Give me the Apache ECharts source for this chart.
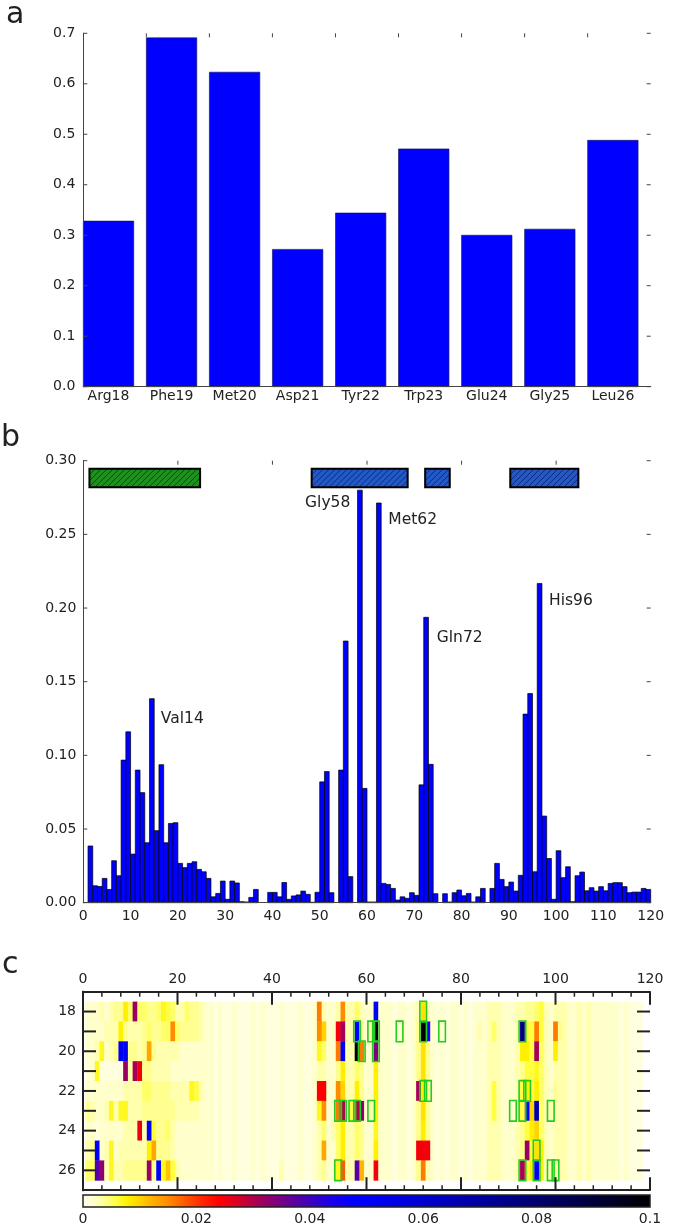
<!DOCTYPE html>
<html><head><meta charset="utf-8">
<script src="https://cdn.jsdelivr.net/npm/echarts/dist/echarts.min.js"></script>
<style>html,body{margin:0;padding:0;background:#fff}#c{width:675px;height:1226px}</style>
</head><body><div id="c"></div>
<script>
// ---------------- DATA ----------------
// Panel a
const aLabels = ['Arg18','Phe19','Met20','Asp21','Tyr22','Trp23','Glu24','Gly25','Leu26'];
const aValues = [0.328,0.691,0.623,0.272,0.344,0.471,0.300,0.312,0.488];
const aYTicks = [0,0.1,0.2,0.3,0.4,0.5,0.6,0.7];
const aTopTicks = [1,2,3,4,5,6,7,8];

// Panel b (residues 1..119)
const bFirstResidue = 1;
const bValues = [
0.0385,0.0115,0.011,0.0165,0.009,0.0285,0.0183,0.0968,0.116,0.033,
0.090,0.0747,0.0407,0.1385,0.0489,0.0937,0.0407,0.0538,0.0543,0.0267,
0.0238,0.0267,0.0278,0.0226,0.021,0.0165,0.004,0.0063,0.0147,0.0023,
0.0147,0.0134,0.0007,0.0005,0.0036,0.009,0,0,0.007,0.007,
0.004,0.0137,0.0023,0.0046,0.0053,0.0079,0.0057,0.0003,0.0071,0.082,
0.089,0.0068,0,0.090,0.1776,0.0177,0,0.280,0.0776,0.0005,
0.0005,0.2713,0.0131,0.0124,0.0097,0.0018,0.004,0.003,0.0068,0.005,
0.080,0.1937,0.0939,0.0061,0,0.0061,0.0005,0.0068,0.0086,0.0047,
0.0063,0.0005,0.004,0.0097,0,0.0097,0.0267,0.0158,0.0109,0.014,
0.0079,0.0186,0.128,0.142,0.021,0.2167,0.0588,0.030,0.0023,0.0353,
0.017,0.0244,0.0007,0.0183,0.0208,0.0081,0.0102,0.0079,0.0109,0.0081,
0.0131,0.0136,0.0136,0.0109,0.0068,0.0072,0.0072,0.0097,0.009];
const bYTicks = [0,0.05,0.10,0.15,0.20,0.25,0.30];
const bTopTicks = [20,40,60,80,100];
const helixStart = [1.3, 48.3, 72.3, 90.3];
const helixEnd   = [24.7, 68.6, 77.5, 104.7];
const helixKind  = ['green','blue','blue','blue'];
const annoNames = ['Val14','Gly58','Met62','Gln72','His96'];
const annoX = [16.4, 46.9, 64.5, 74.75, 98.5];
const annoY = [0.1247, 0.2711, 0.2597, 0.1795, 0.2048];

// Panel c heat map (values in thousandths, columns 1..118)
const heatFirstCol = 1;
const heatRows = [18,19,20,21,22,23,24,25,26];
const row18 = [2,2,2,3,2,3,4,4,8,5, 32,5,5,4,4,5,7,6,5,3, 3,5,4,4,3,2,2,1,2,1, 1,2,1,1,1,2,1,2,1,1, 1,2,1,1,1,2,1,1,2,16, 3,2,2,3,15,3,3,5,3,2, 2,50,2,2,2,1,2,2,1,2, 3,9,3,2,1,2,1,2,2,1, 2,1,2,2,2,3,3,3,2,2, 2,3,3,4,4,5,6,3,2,3, 3,3,2,2,3,2,3,2,2,2, 2,2,2,1,2,1,1,1];
const row19 = [2,2,2,2,3,3,3,8,4,3, 3,3,4,5,4,4,5,5,15,5, 4,4,4,4,3,2,2,1,2,1, 1,2,1,1,1,2,1,2,1,1, 1,2,1,1,1,2,1,1,2,15, 10,2,2,25,31,3,3,48,4,2, 3,100,2,2,2,1,2,2,1,2, 4,100,44,2,1,2,1,2,2,1, 2,1,2,3,2,3,5,3,2,2, 2,3,75,6,6,16,6,3,2,16, 4,3,2,2,3,2,3,2,2,2, 2,2,2,1,2,1,1,1];
const row20 = [2,2,3,7,2,3,4,50,50,4, 4,3,4,13,4,3,3,3,3,3, 2,2,2,2,2,2,2,1,2,1, 1,2,1,1,1,2,1,2,1,1, 1,2,1,1,1,2,1,1,2,7, 5,2,2,16,50,3,3,100,16,2, 2,34,2,2,2,1,2,2,1,2, 4,9,4,2,1,2,1,2,2,1, 2,1,2,2,2,3,3,3,2,2, 2,3,8,8,6,31,5,3,2,8, 3,3,2,2,3,2,3,2,2,2, 2,2,2,1,2,1,1,1];
const row21 = [1,2,7,1,1,1,1,1,32,3, 31,25,4,4,3,3,3,3,2,2, 2,2,2,2,2,2,2,1,2,1, 1,2,1,1,1,2,1,2,1,1, 1,2,1,1,1,2,1,1,2,3, 3,2,2,4,8,3,3,5,4,2, 2,8,2,2,2,1,2,2,1,2, 4,9,4,2,1,2,1,2,2,1, 2,1,2,2,2,3,3,3,2,2, 2,3,4,6,6,7,5,3,2,3, 3,3,2,2,3,2,3,2,2,2, 2,2,2,1,2,1,1,1];
const row22 = [2,2,2,2,2,2,2,2,3,3, 3,3,5,5,4,4,4,4,3,3, 3,3,7,6,3,2,2,1,2,1, 1,2,1,1,1,2,1,2,1,1, 1,2,1,1,1,2,1,1,2,24, 24,2,2,15,10,3,3,8,4,2, 2,8,2,2,2,1,2,2,1,2, 31,8,4,2,1,2,1,2,2,1, 2,1,2,2,2,3,6,3,2,2, 2,3,6,8,6,8,5,3,2,4, 3,3,2,2,3,2,3,2,2,2, 2,2,2,1,2,1,1,1];
const row23 = [4,3,2,2,3,7,3,7,7,3, 3,3,4,4,4,4,4,4,4,3, 3,3,3,3,2,2,2,1,2,1, 1,2,1,1,1,2,1,2,1,1, 1,2,1,1,1,2,1,1,2,7, 15,2,2,16,30,3,6,30,33,2, 3,8,2,2,2,1,2,2,1,2, 4,9,4,2,1,2,1,2,2,1, 2,1,2,2,2,3,6,3,2,2, 2,3,6,48,10,68,5,3,3,3, 3,3,2,2,3,2,3,2,2,2, 2,2,2,1,2,1,1,1];
const row24 = [2,2,1,2,2,2,2,2,3,3, 3,26,3,48,6,4,4,5,3,2, 2,2,2,2,2,2,2,1,2,1, 1,2,1,1,1,2,1,2,1,1, 1,2,1,1,1,2,1,1,2,3, 5,2,3,5,8,3,3,5,4,2, 2,7,2,2,2,1,2,2,1,2, 4,8,4,2,1,2,1,2,2,1, 2,1,2,2,2,3,3,3,2,2, 2,3,4,6,8,10,5,3,2,3, 3,3,2,2,3,2,3,2,2,2, 2,2,2,1,2,1,1,1];
const row25 = [3,4,50,2,3,7,2,3,3,3, 3,3,3,8,13,4,4,4,3,2, 2,2,2,2,2,2,2,1,2,1, 1,2,1,1,1,2,1,2,1,1, 1,2,1,1,1,2,1,1,2,3, 13,2,2,5,8,3,3,5,4,2, 2,8,2,2,2,1,2,2,1,2, 25,25,25,2,1,2,1,2,2,1, 2,1,2,2,2,3,3,3,2,2, 2,3,4,32,6,9,8,3,2,3, 3,3,2,2,3,2,3,2,2,2, 2,2,2,1,2,1,1,1];
const row26 = [5,5,38,33,3,7,3,3,4,4, 4,4,4,32,4,48,7,11,6,3, 2,2,2,2,2,2,2,1,2,1, 1,2,1,1,1,2,1,2,1,1, 1,3,1,1,1,2,1,1,2,3, 4,2,2,7,18,3,3,38,12,2, 2,25,2,2,2,1,2,2,1,2, 4,16,3,2,1,2,1,2,2,1, 2,1,2,2,2,3,3,3,2,2, 2,3,31,6,8,50,8,3,3,3, 3,3,2,2,3,2,3,2,2,2, 2,2,2,1,2,1,1,1];
const boxCol = [72, 58,61,62,67,72,76,93, 59,62, 72,73,93,94, 54,55,57,58,61,91,93,99, 96, 54,93,96,99,100];
const boxRow = [18, 19,19,19,19,19,19,19, 20,20, 22,22,22,22, 23,23,23,23,23,23,23,23, 25, 26,26,26,26,26];
const cMajorTicks = [0,20,40,60,80,100,120];
const cMinorTicks = [4,8,12,16,24,28,32,36,44,48,52,56,64,68,72,76,84,88,92,96,104,108,112,116];
const cYTicks = [18,19,20,21,22,23,24,25,26];
const colorbarTicks = [0,0.02,0.04,0.06,0.08,0.1];

// ---------------- STYLE ----------------
const FONT = 'DejaVu Sans';
const TXT = '#222';
const AX = '#444';
const cmapStops = [[0,'#fffff0'],[2,'#ffffcc'],[4,'#ffff90'],[6,'#ffff40'],[8,'#fff000'],[10,'#ffd400'],
 [12,'#ffb400'],[15,'#ff8c00'],[18,'#ff5a00'],[21,'#ff2800'],[24,'#ff0000'],[27,'#de0022'],[30,'#b4004a'],
 [33,'#8c0070'],[36,'#6a0090'],[40,'#4000c0'],[44,'#1800ea'],[48,'#0000ff'],[55,'#0000e6'],[62,'#0000c8'],
 [70,'#0000a0'],[78,'#000078'],[86,'#000050'],[93,'#000028'],[100,'#000000']];
function hex2rgb(h){return [parseInt(h.substr(1,2),16),parseInt(h.substr(3,2),16),parseInt(h.substr(5,2),16)];}
function cmap(v){
  v = Math.max(0, Math.min(100, v));
  for (let i=1;i<cmapStops.length;i++){
    if (v <= cmapStops[i][0]){
      const a=cmapStops[i-1], b=cmapStops[i];
      const t=(v-a[0])/(b[0]-a[0]); const ca=hex2rgb(a[1]), cb=hex2rgb(b[1]);
      return 'rgb('+ca.map((c,j)=>Math.round(c+(cb[j]-c)*t)).join(',')+')';
    }
  }
  return '#000';
}
const hatchFill = {green:'#1f8f1f', blue:'#2458c6'};
const hatchLine = {green:'#0b4a0b', blue:'#0c2a78'};

// ---------------- CHART ----------------
const chart = echarts.init(document.getElementById('c'));
const heatData = [];
[row18,row19,row20,row21,row22,row23,row24,row25,row26].forEach((arr,ri)=>{
  arr.forEach((v,ci)=>heatData.push([heatFirstCol+ci, heatRows[ri], v]));
});
const lab = {fontFamily:FONT, fontSize:14, color:TXT};
const noSplit = {show:false};
const noTick = {show:false};

function ax(grid, min, max, interval, pos, extra){
  return Object.assign({gridIndex:grid, type:'value', min:min, max:max, interval:interval, position:pos,
    axisLine:{lineStyle:{color:AX}}, axisTick:noTick, axisLabel:{show:false}, splitLine:noSplit, z:10}, extra||{});
}
const thick = {axisLine:{lineStyle:{color:'#222',width:2}}};
const xAxis = [
  ax(0,0,9,1,'bottom'),
  ax(0,0,9,1,'top'),
  ax(1,0,120,10,'bottom',{axisLabel:Object.assign({margin:7},lab)}),
  ax(1,0,120,20,'top'),
  ax(2,0,120,20,'top',Object.assign({axisLabel:Object.assign({margin:5},lab)},thick)),
  ax(2,0,120,20,'bottom',thick),
  ax(3,0,0.1,0.02,'bottom',{axisLine:{show:false}, axisLabel:Object.assign({margin:5},lab)})
];
const yAxis = [
  ax(0,0,0.7,0.1,'left',{axisLabel:Object.assign({margin:8, formatter:v=>v.toFixed(1)},lab)}),
  ax(0,0,0.7,0.1,'right'),
  ax(1,0,0.3,0.05,'left',{axisLabel:Object.assign({margin:7, formatter:v=>v.toFixed(2)},lab)}),
  ax(1,0,0.3,0.05,'right'),
  ax(2,17,27,1,'left',Object.assign({inverse:true, axisLabel:Object.assign({margin:7, formatter:v=>(v>=18&&v<=26&&v%2===0)?String(v):''},lab)},thick)),
  ax(2,17,27,1,'right',Object.assign({inverse:true},thick)),
  {gridIndex:3, type:'value', min:0, max:1, show:false}
];

function hatchLines(x0,y0,x1,y1,step,color){
  const out=[];
  for(let c=x0+y0; c<=x1+y1; c+=step){
    const xa=Math.max(x0,c-y1), xb=Math.min(x1,c-y0);
    if(xb>xa) out.push({type:'line', shape:{x1:xa,y1:c-xa,x2:xb,y2:c-xb}, style:{stroke:color,lineWidth:1}});
  }
  return out;
}
// tick series drawn through the axes' scales (inward ticks on frame sides)
function yTickSeries(xi, yi, vals, xmin, xmax, len, w, color){
  return {type:'custom', xAxisIndex:xi, yAxisIndex:yi, clip:false, z:12, silent:true,
    data: vals.map(v=>[xmin,v]),
    renderItem:(p,api)=>{
      const v=api.value(1); const a=api.coord([xmin,v]), b=api.coord([xmax,v]);
      return {type:'group', children:[
        {type:'line', shape:{x1:a[0],y1:a[1],x2:a[0]+len,y2:a[1]}, style:{stroke:color,lineWidth:w}},
        {type:'line', shape:{x1:b[0],y1:b[1],x2:b[0]-len,y2:b[1]}, style:{stroke:color,lineWidth:w}}
      ]};
    }};
}
function xTickSeries(xi, yi, vals, ytop, ybot, lenTop, lenBot, w, color){
  return {type:'custom', xAxisIndex:xi, yAxisIndex:yi, clip:false, z:12, silent:true,
    data: vals.map(v=>[v,ytop]),
    renderItem:(p,api)=>{
      const v=api.value(0); const a=api.coord([v,ytop]), b=api.coord([v,ybot]);
      const ch=[];
      if(lenTop>0) ch.push({type:'line', shape:{x1:a[0],y1:a[1],x2:a[0],y2:a[1]+(b[1]>a[1]?lenTop:-lenTop)}, style:{stroke:color,lineWidth:w}});
      if(lenBot>0) ch.push({type:'line', shape:{x1:b[0],y1:b[1],x2:b[0],y2:b[1]+(b[1]>a[1]?-lenBot:lenBot)}, style:{stroke:color,lineWidth:w}});
      return {type:'group', children:ch};
    }};
}

const series = [
  // panel a bars + category labels
  {type:'custom', xAxisIndex:0, yAxisIndex:0, clip:false,
   data: aValues.map((v,i)=>[i,v]),
   renderItem:(p,api)=>{
     const i=api.value(0), v=api.value(1);
     const p0=api.coord([i,0]), p1=api.coord([i+0.8,v]), pc=api.coord([i+0.4,0]);
     return {type:'group', children:[
       {type:'rect', shape:{x:p0[0],y:p1[1],width:p1[0]-p0[0],height:p0[1]-p1[1]}, style:{fill:'#0000ff',stroke:'#101050',lineWidth:0.6}},
       {type:'text', x:pc[0], y:pc[1]+3, style:{text:aLabels[p.dataIndex], fill:TXT, fontFamily:FONT, fontSize:14, align:'center', verticalAlign:'top'}}
     ]};
   }},
  yTickSeries(0,0,aYTicks,0,9,4,1,AX),
  xTickSeries(0,0,aTopTicks,0.7,0,4,0,1,AX),
  // panel b bars
  {type:'custom', xAxisIndex:2, yAxisIndex:2, clip:false,
   data: bValues.map((v,i)=>[bFirstResidue+i,v]),
   renderItem:(p,api)=>{
     const r=api.value(0), v=api.value(1);
     if(v<=0) return null;
     const p0=api.coord([r,0]), p1=api.coord([r+1,v]);
     return {type:'rect', shape:{x:p0[0],y:p1[1],width:p1[0]-p0[0],height:p0[1]-p1[1]}, style:{fill:'#0000ff',stroke:'#000',lineWidth:0.7}};
   }},
  // panel b hatched secondary-structure boxes
  {type:'custom', xAxisIndex:2, yAxisIndex:2, clip:false,
   data: helixStart.map((s,i)=>[s,helixEnd[i]]),
   renderItem:(p,api)=>{
     const kind=helixKind[p.dataIndex];
     const a=api.coord([api.value(0),0.2946]), b=api.coord([api.value(1),0.282]);
     const x0=a[0],y0=a[1],x1=b[0],y1=b[1];
     return {type:'group', children:[
       {type:'rect', shape:{x:x0,y:y0,width:x1-x0,height:y1-y0}, style:{fill:hatchFill[kind]}},
       ...hatchLines(x0,y0,x1,y1,6,hatchLine[kind]),
       {type:'rect', shape:{x:x0,y:y0,width:x1-x0,height:y1-y0}, style:{fill:'none',stroke:'#000',lineWidth:2}}
     ]};
   }},
  // panel b annotations
  {type:'custom', xAxisIndex:2, yAxisIndex:2, clip:false,
   data: annoX.map((x,i)=>[x,annoY[i]]),
   renderItem:(p,api)=>{
     const c=api.coord([api.value(0),api.value(1)]);
     return {type:'text', x:c[0], y:c[1], style:{text:annoNames[p.dataIndex], fill:TXT, fontFamily:FONT, fontSize:15.5, align:'left', verticalAlign:'middle'}};
   }},
  yTickSeries(2,2,bYTicks,0,120,4,1,AX),
  xTickSeries(2,2,bTopTicks,0.3,0,4,0,1,AX),
  // panel c heat cells
  {type:'custom', xAxisIndex:4, yAxisIndex:4, clip:false,
   data: heatData,
   renderItem:(p,api)=>{
     const k=api.value(0), r=api.value(1), v=api.value(2);
     const a=api.coord([k-0.5,r-0.5]), b=api.coord([k+0.5,r+0.5]);
     const x=Math.min(a[0],b[0]), y=Math.min(a[1],b[1]);
     return {type:'rect', shape:{x:x,y:y,width:Math.abs(b[0]-a[0])+0.4,height:Math.abs(b[1]-a[1])+0.4}, style:{fill:cmap(v)}};
   }},
  // panel c green boxes
  {type:'custom', xAxisIndex:4, yAxisIndex:4, clip:false,
   data: boxCol.map((k,i)=>[k,boxRow[i]]),
   renderItem:(p,api)=>{
     const k=api.value(0), r=api.value(1);
     const a=api.coord([k-0.7,r-0.52]), b=api.coord([k+0.7,r+0.52]);
     return {type:'rect', shape:{x:Math.min(a[0],b[0]),y:Math.min(a[1],b[1]),width:Math.abs(b[0]-a[0]),height:Math.abs(b[1]-a[1])}, style:{fill:'none',stroke:'#22cc22',lineWidth:1.6}};
   }},
  yTickSeries(4,4,cYTicks,0,120,13,2,'#222'),
  xTickSeries(4,4,cMajorTicks,17,27,13,13,2,'#222'),
  xTickSeries(4,4,cMinorTicks,17,27,5,5,1.5,'#222'),
  // colorbar
  {type:'custom', xAxisIndex:6, yAxisIndex:6, clip:false,
   data: [[colorbarTicks[0], colorbarTicks[colorbarTicks.length-1]]],
   renderItem:(p,api)=>{
     const a=api.coord([api.value(0),1]), b=api.coord([api.value(1),0]);
     const grad=new echarts.graphic.LinearGradient(0,0,1,0, cmapStops.map(s=>({offset:s[0]/100,color:s[1]})));
     return {type:'rect', shape:{x:a[0],y:a[1],width:b[0]-a[0],height:b[1]-a[1]}, style:{fill:grad,stroke:'#222',lineWidth:1.5}};
   }}
];

chart.setOption({
  animation:false,
  backgroundColor:'#fff',
  grid:[
    {left:83.3, top:33.3, width:567.4, height:353.4},
    {left:83.3, top:460.7, width:567.4, height:442},
    {left:83, top:991.7, width:567, height:198.5},
    {left:83, top:1195, width:567, height:12}
  ],
  xAxis:xAxis, yAxis:yAxis, series:series,
  graphic:[
    {type:'text', left:6, top:0, style:{text:'a', fill:TXT, fontFamily:FONT, fontSize:30}},
    {type:'text', left:1, top:423, style:{text:'b', fill:TXT, fontFamily:FONT, fontSize:30}},
    {type:'text', left:2, top:950, style:{text:'c', fill:TXT, fontFamily:FONT, fontSize:30}}
  ]
});
</script></body></html>
